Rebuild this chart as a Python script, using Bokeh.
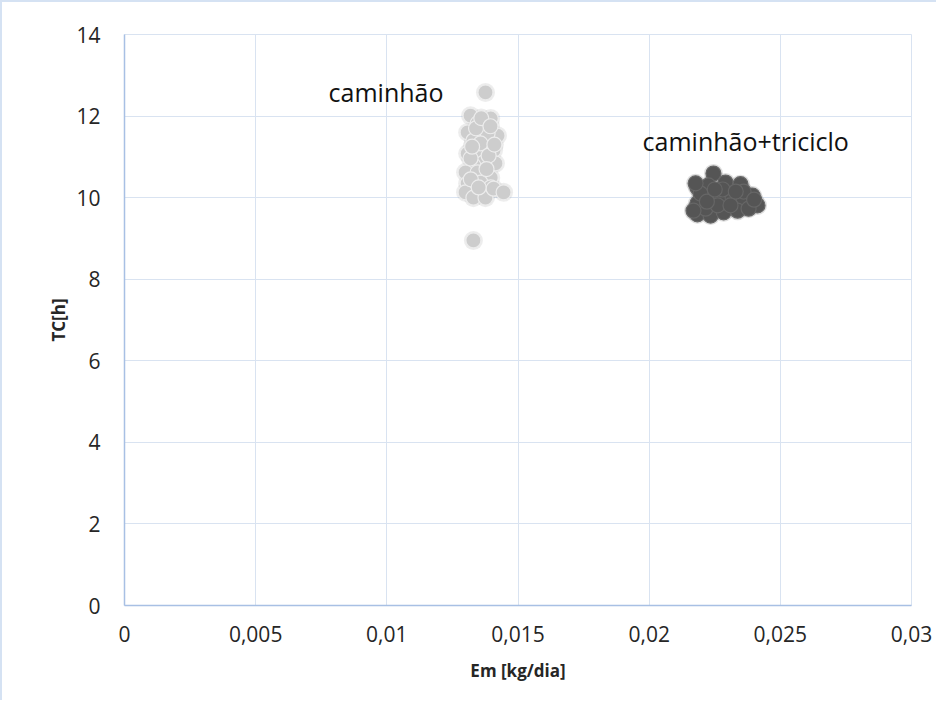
from bokeh.plotting import figure
from bokeh.models import Range1d, FixedTicker, CustomJSTickFormatter, ColumnDataSource
from bokeh.core.properties import value
from bokeh.embed import file_html
from bokeh.resources import INLINE

# caminhão (light grey series)
cam_x = [0.01319, 0.01396, 0.01346, 0.01422, 0.01384, 0.01308, 0.01330, 0.01357,
         0.01407, 0.01308, 0.01369, 0.01330, 0.01414, 0.01300, 0.01346, 0.01396,
         0.01357, 0.01308, 0.01396, 0.01300, 0.01330, 0.01376, 0.01407, 0.01445,
         0.01357, 0.01319, 0.01388, 0.01376, 0.01330,
         0.01340, 0.01320, 0.01380, 0.01410, 0.01360, 0.01325, 0.01395, 0.01350]
cam_y = [12.01, 11.94, 11.82, 11.52, 11.57, 11.60, 11.40, 11.11,
         11.16, 11.08, 10.86, 10.79, 10.84, 10.62, 10.62, 10.49,
         10.37, 10.35, 10.25, 10.13, 10.00, 10.00, 10.22, 10.13,
         11.33, 10.96, 11.03, 12.58, 8.95,
         11.70, 10.45, 10.70, 11.30, 11.95, 11.25, 11.75, 10.25]

# caminhão+triciclo (dark grey series)
tri_x = [0.02245, 0.02184, 0.02226, 0.02291, 0.02348, 0.02394, 0.02413, 0.02184,
         0.02234, 0.02272, 0.02318, 0.02360, 0.02184, 0.02234, 0.02284, 0.02337,
         0.02379, 0.02215, 0.02261, 0.02310, 0.02196, 0.02177, 0.02169,
         0.02220, 0.02360, 0.02280, 0.02400, 0.02250, 0.02330]
tri_y = [10.59, 10.25, 10.30, 10.37, 10.33, 10.05, 9.81, 9.86,
         10.00, 10.05, 10.00, 9.98, 9.59, 9.56, 9.64, 9.68,
         9.73, 9.73, 9.81, 9.81, 10.10, 10.35, 9.68,
         9.90, 10.15, 10.20, 9.95, 10.20, 10.15]

x_ticks = [0, 0.005, 0.01, 0.015, 0.02, 0.025, 0.03]
y_ticks = [0, 2, 4, 6, 8, 10, 12, 14]

label_text = ["caminhão", "caminhão+triciclo"]
label_x = [0.00778, 0.01975]
label_y = [12.58, 11.40]

FONT = "Open Sans"
GRID = "#d9e3f1"
AXIS = "#a8c0e4"

p = figure(width=936, height=700, output_backend="svg", toolbar_location=None,
           x_range=Range1d(0, 0.03), y_range=Range1d(0, 14),
           min_border_left=122, min_border_right=27, min_border_top=32, min_border_bottom=97)

p.outline_line_color = GRID
p.background_fill_color = "white"
p.border_fill_color = "white"

for ax in (p.xaxis[0], p.yaxis[0]):
    ax.axis_line_color = AXIS
    ax.axis_line_width = 1.5
    ax.major_tick_line_color = None
    ax.minor_tick_line_color = None
    ax.major_label_text_font = FONT
    ax.major_label_text_font_size = "21px"
    ax.major_label_text_color = "#262626"
    ax.axis_label_text_font = FONT
    ax.axis_label_text_font_style = "bold"
    ax.axis_label_text_font_size = "17px"
    ax.axis_label_text_color = "#262626"

p.xaxis.ticker = FixedTicker(ticks=x_ticks)
p.yaxis.ticker = FixedTicker(ticks=y_ticks)
p.xaxis.formatter = CustomJSTickFormatter(code="return Number(tick.toPrecision(6)).toString().replace('.', ',');")
p.yaxis.formatter = CustomJSTickFormatter(code="return Number(tick.toPrecision(6)).toString().replace('.', ',');")
p.xaxis.axis_label = "Em [kg/dia]"
p.yaxis.axis_label = "TC[h]"
p.xaxis.major_label_standoff = 14
p.yaxis.major_label_standoff = 18
p.xaxis.axis_label_standoff = 14
p.yaxis.axis_label_standoff = 3

p.xgrid.grid_line_color = GRID
p.ygrid.grid_line_color = GRID

cam = ColumnDataSource(dict(x=cam_x, y=cam_y))
tri = ColumnDataSource(dict(x=tri_x, y=tri_y))

# soft halo (shadow-like)
p.scatter("x", "y", source=cam, size=19, fill_color="#9a9a9a", fill_alpha=0.18, line_color=None)
p.scatter("x", "y", source=tri, size=19, fill_color="#7a7a7a", fill_alpha=0.25, line_color=None)

p.scatter("x", "y", source=cam, size=15, fill_color="#cdcdcd", line_color="#ececec", line_width=1.2)
p.scatter("x", "y", source=tri, size=15, fill_color="#555555", line_color="#666666", line_width=1.2)

p.text(x=label_x, y=label_y, text=label_text, text_font=value(FONT), text_font_size="25px",
       text_color="#111111", text_baseline="middle", text_align="left")

p.styles = {"border-left": "2px solid #d5e2f3", "border-top": "2px solid #d5e2f3"}

open("out.html", "w").write(file_html(p, INLINE))
